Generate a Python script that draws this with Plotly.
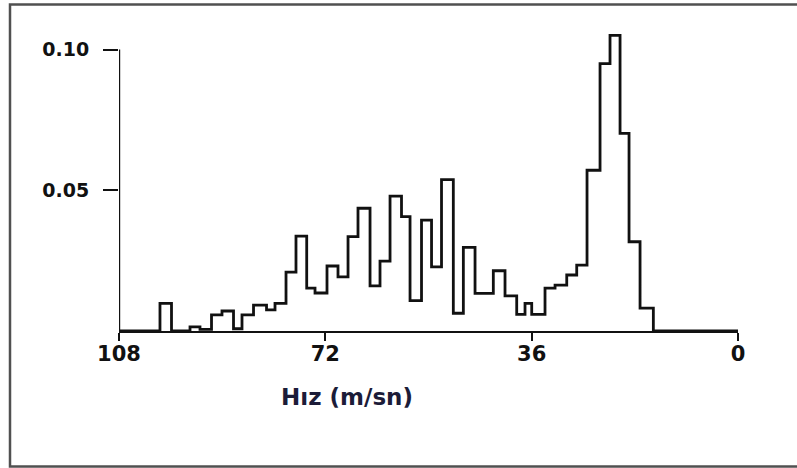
import plotly.graph_objects as go

# Bin edges (speed, m/s), left (high speed) to right
bin_edges = [100.85, 98.84, 95.61, 93.87, 91.86, 90.03, 88.02, 86.54, 84.53, 82.26,
             80.78, 78.86, 77.12, 75.25, 73.80, 71.71, 69.79, 68.04, 66.30, 64.20,
             62.46, 60.71, 58.71, 57.22, 55.22, 53.47, 51.73, 49.67, 47.92, 45.88,
             44.31, 42.69, 40.65, 38.61, 37.16, 35.99, 33.67, 31.92, 29.88, 28.14,
             26.34, 24.07, 22.33, 20.58, 19.01, 17.09, 14.77]
# Relative frequency of each bin
frequencies = [0.0098, 0.0, 0.0015, 0.0006, 0.0057, 0.0071, 0.0008, 0.0057, 0.0092, 0.0075,
               0.0098, 0.0209, 0.0337, 0.0152, 0.0135, 0.0231, 0.0192, 0.0335, 0.0436, 0.0160,
               0.0248, 0.0479, 0.0406, 0.0108, 0.0394, 0.0228, 0.0538, 0.0063, 0.0297, 0.0134,
               0.0134, 0.0214, 0.0125, 0.0059, 0.0098, 0.0059, 0.0152, 0.0163, 0.0199, 0.0234,
               0.0571, 0.0950, 0.1050, 0.0702, 0.0317, 0.0081]

x_ticks = [108, 72, 36, 0]
y_ticks = [0.05, 0.10]
x_title = "Hız (m/sn)"

X_MAX, X_MIN = 108, 0
Y_TOP = 0.108

step_x = [X_MAX] + bin_edges + [X_MIN]
step_y = [0] + frequencies + [0, 0]

W, H = 797, 468
ML, MR, MT = 119, 797 - 738, 27
BASE = 331
MB = H - BASE
pw, ph = W - ML - MR, H - MT - MB

fig = go.Figure()
fig.add_trace(go.Scatter(
    x=step_x, y=step_y, mode="lines", line_shape="hv",
    line=dict(color="#111111", width=2.8), hoverinfo="skip", showlegend=False,
))

fig.update_layout(
    width=W, height=H,
    margin=dict(l=ML, r=MR, t=MT, b=MB, pad=0),
    paper_bgcolor="white", plot_bgcolor="white",
    xaxis=dict(
        range=[X_MAX, X_MIN], tickvals=x_ticks, ticktext=[str(v) for v in x_ticks],
        showgrid=False, zeroline=False, showline=True, linecolor="#111111", linewidth=2.2,
        ticks="outside", ticklen=8, tickwidth=2.2, tickcolor="#111111",
        tickfont=dict(family="DejaVu Sans", size=21, color="#111111", weight="bold"),
        ticklabelstandoff=-5,
    ),
    yaxis=dict(
        range=[0, Y_TOP], tickvals=y_ticks, ticktext=["%.2f" % v for v in y_ticks],
        showgrid=False, zeroline=False, showline=False,
        ticks="outside", ticklen=15, tickwidth=2.2, tickcolor="#111111",
        tickfont=dict(family="DejaVu Sans", size=19, color="#111111", weight="bold"),
        ticklabelstandoff=10,
    ),
    shapes=[
        # left axis line stops at the 0.10 tick
        dict(type="line", xref="x", yref="y", x0=X_MAX, x1=X_MAX, y0=0, y1=max(y_ticks),
             line=dict(color="#111111", width=2.4)),
        # outer frame around the picture
        dict(type="rect", xref="paper", yref="paper",
             x0=(10 - ML) / pw, x1=(W + 10 - ML) / pw,
             y0=(BASE - 466.5) / ph, y1=(BASE - 4.5) / ph,
             line=dict(color="#505050", width=2.5), fillcolor="rgba(0,0,0,0)", layer="above"),
    ],
    annotations=[
        dict(text=x_title, xref="paper", yref="paper",
             x=(347 - ML) / pw, y=(BASE - 397) / ph,
             xanchor="center", yanchor="middle", showarrow=False,
             font=dict(family="DejaVu Sans", size=23, color="#1c1c38", weight="bold")),
    ],
)

fig.write_html("out.html", config={"displayModeBar": False},
               post_script="document.body.style.margin='0';")
